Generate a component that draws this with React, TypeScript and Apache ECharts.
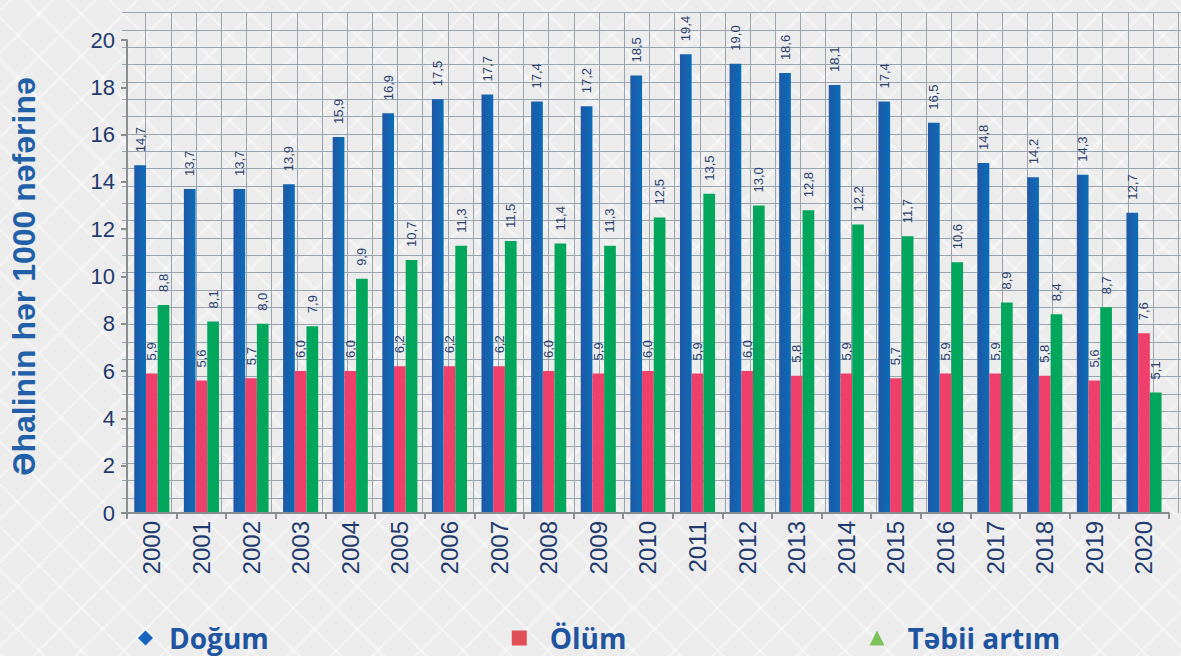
import React, { useEffect, useRef } from "react";
import * as echarts from "echarts";

const years = ["2000","2001","2002","2003","2004","2005","2006","2007","2008","2009","2010","2011","2012","2013","2014","2015","2016","2017","2018","2019","2020"];
const birth = [14.7,13.7,13.7,13.9,15.9,16.9,17.5,17.7,17.4,17.2,18.5,19.4,19.0,18.6,18.1,17.4,16.5,14.8,14.2,14.3,12.7];
const death = [5.9,5.6,5.7,6.0,6.0,6.2,6.2,6.2,6.0,5.9,6.0,5.9,6.0,5.8,5.9,5.7,5.9,5.9,5.8,5.6,7.6];
const natural = [8.8,8.1,8.0,7.9,9.9,10.7,11.3,11.5,11.4,11.3,12.5,13.5,13.0,12.8,12.2,11.7,10.6,8.9,8.4,8.7,5.1];
const seriesNames = ["Doğum", "Ölüm", "Təbii artım"];
const yMin = 0;
const yMax = 20;
const yStep = 2;
const yTitle = "Əhalinin hər 1000 nəfərinə";

const NAVY = "#1f3a6e";
const SANS = "'Liberation Sans', Arial, sans-serif";
const BGLINE = "#97a5b0";

const fmt = (p: any) => Number(p.value).toFixed(1).replace(".", ",");

export default function App() {
  const ref = useRef<HTMLDivElement>(null);
  useEffect(() => {
    if (!ref.current) return;
    const chart = echarts.init(ref.current, undefined, { renderer: "svg" });
    const labelCfg = {
      show: true,
      position: "top",
      rotate: 90,
      align: "left",
      verticalAlign: "middle",
      distance: 13,
      formatter: fmt,
      color: "#2b3f6e",
      fontSize: 13,
      fontFamily: SANS,
    };
    const mkBar = (name: string, data: number[], color: any) => ({
      name,
      type: "bar",
      xAxisIndex: 0,
      yAxisIndex: 0,
      data,
      barWidth: 11.7,
      barGap: "0%",
      itemStyle: { color },
      label: labelCfg,
    });
    chart.setOption({
      animation: false,
      backgroundColor: "transparent",
      grid: [
        { left: 123, top: 40, width: 1045.8, height: 473 },
        { left: 122, top: 12.7, width: 1059, height: 485.3 },
        { left: 145.7, top: 12.7, width: 1032.6, height: 500.3 },
      ],
      xAxis: [
        {
          type: "category",
          gridIndex: 0,
          data: years,
          axisLine: { show: true, lineStyle: { color: "#8a8d90", width: 2 } },
          axisTick: { show: true, length: 6, alignWithLabel: false, lineStyle: { color: "#8a8d90", width: 2 } },
          axisLabel: { rotate: 90, margin: 8, fontSize: 24, color: NAVY, fontFamily: SANS },
          splitLine: { show: false },
          z: 3,
        },
        { type: "value", gridIndex: 1, min: 0, max: 1, show: false },
        {
          type: "value",
          gridIndex: 2,
          min: 0,
          max: 41,
          interval: 1,
          axisLine: { show: false },
          axisTick: { show: false },
          axisLabel: { show: false },
          splitLine: { show: true, lineStyle: { color: BGLINE, width: 1 } },
        },
      ],
      yAxis: [
        {
          type: "value",
          gridIndex: 0,
          min: yMin,
          max: yMax,
          interval: yStep,
          name: yTitle,
          nameLocation: "middle",
          nameRotate: 90,
          nameGap: 87,
          nameTextStyle: { fontSize: 32, fontWeight: "bold", color: "#2160a8", fontFamily: SANS },
          axisLine: { show: true, lineStyle: { color: "#8a8d90", width: 2 } },
          axisTick: { show: true, length: 6, lineStyle: { color: "#8a8d90", width: 2 } },
          axisLabel: { fontSize: 22, color: NAVY, margin: 12, fontFamily: SANS },
          splitLine: { show: false },
          z: 3,
        },
        {
          type: "value",
          gridIndex: 1,
          min: 0,
          max: 28,
          interval: 1,
          axisLine: { show: false },
          axisTick: { show: false },
          axisLabel: { show: false },
          splitLine: { show: true, lineStyle: { color: BGLINE, width: 1 } },
        },
        { type: "value", gridIndex: 2, min: 0, max: 1, show: false },
      ],
      legend: {
        left: 133,
        top: 619,
        itemGap: 243,
        itemWidth: 15,
        itemHeight: 15,
        textStyle: { fontSize: 28, fontWeight: "bold", color: "#1f55a0", fontFamily: "'Open Sans', sans-serif", padding: [0, 0, 0, 11] },
        data: [
          { name: seriesNames[0], icon: "diamond", itemStyle: { color: "#1565c0" } },
          { name: seriesNames[1], icon: "rect", itemStyle: { color: "#e04f55" }, textStyle: { padding: [0, 0, 0, 18] } },
          { name: seriesNames[2], icon: "triangle", itemStyle: { color: "#7cc15a" }, textStyle: { padding: [0, 0, 0, 18] } },
        ],
      },
      series: [
        mkBar(seriesNames[0], birth, new echarts.graphic.LinearGradient(0, 0, 1, 0, [
          { offset: 0, color: "#2057a6" },
          { offset: 1, color: "#0a6db7" },
        ])),
        mkBar(seriesNames[1], death, "#ef3f6b"),
        mkBar(seriesNames[2], natural, "#00a65b"),
      ],
    });
    return () => chart.dispose();
  }, []);
  return (
    <div
      style={{
        position: "absolute",
        left: 0,
        top: 0,
        width: 1181,
        height: 656,
        overflow: "hidden",
        backgroundColor: "#ececec",
        backgroundImage:
          "repeating-linear-gradient(45deg, rgba(255,255,255,0.35) 0px, rgba(255,255,255,0.35) 3px, transparent 3px, transparent 30px), repeating-linear-gradient(-45deg, rgba(255,255,255,0.35) 0px, rgba(255,255,255,0.35) 3px, transparent 3px, transparent 30px)",
      }}
    >
      <div ref={ref} style={{ width: 1181, height: 656 }} />
    </div>
  );
}
